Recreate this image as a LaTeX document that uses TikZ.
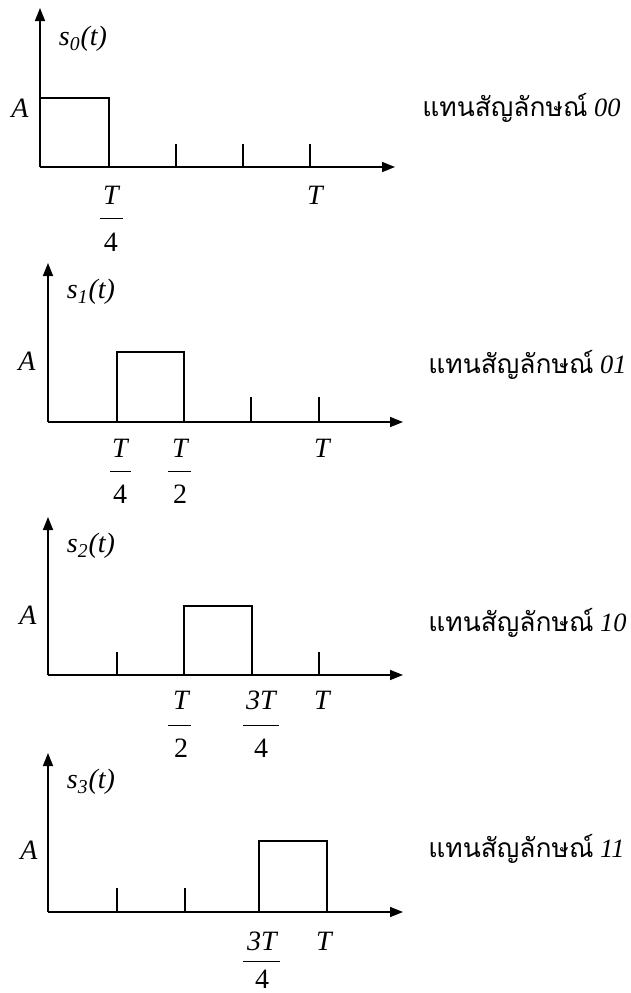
\documentclass[tikz,border=0pt]{standalone}
\usepackage{fontspec}
\setmainfont{Liberation Serif}
\newfontfamily\thaifont[Script=Thai]{Loma}
\usetikzlibrary{arrows.meta}

\begin{document}
\begin{tikzpicture}[
  x=0.5pt, y=-0.5pt,
  font=\fontsize{14}{16}\selectfont,
  axis/.style={line width=0.8pt, -{Triangle[length=6.5pt,width=5pt]}},
  pulse/.style={line width=0.6pt},
  tickmark/.style={line width=0.6pt},
  bar/.style={line width=0.5pt},
  lbl/.style={inner sep=0pt, font=\fontsize{14}{16}\selectfont\itshape},
  num/.style={inner sep=0pt},
  sym/.style={inner sep=0pt, anchor=base west, font=\fontsize{13.2}{15}\selectfont}
]
  \useasboundingbox (0,0) rectangle (631,993);

  % s0(t)
  \coordinate (o0) at (40,167);
  \coordinate (y0) at (40,8);
  \coordinate (x0) at (395,167);
  \draw[axis] (o0) -- (y0);
  \draw[axis] (o0) -- (x0);
  \draw[pulse] (40,98) -- (109,98) -- (109,167);
  \foreach \x in {176,243,310} \draw[tickmark] (\x,167) -- (\x,144);
  \node[lbl] (s0) at (83,39) {s\textsubscript{0}(t)};
  \node[lbl] (a0) at (20,108) {A};
  \node[lbl] (n0a) at (111,195) {T};
  \draw[bar] (100,218) -- (123,218);
  \node[num] (d0a) at (111,242) {4};
  \node[lbl] (n0b) at (315,195) {T};
  \node[sym] (m0) at (422,116) {{\thaifont แทนสัญลักษณ์} \textit{00}};

  % s1(t)
  \coordinate (o1) at (48,422);
  \coordinate (y1) at (48,263);
  \coordinate (x1) at (403,422);
  \draw[axis] (o1) -- (y1);
  \draw[axis] (o1) -- (x1);
  \draw[pulse] (117,422) -- (117,352) -- (184,352) -- (184,422);
  \foreach \x in {251,319} \draw[tickmark] (\x,422) -- (\x,397);
  \node[lbl] (s1) at (91,292) {s\textsubscript{1}(t)};
  \node[lbl] (a1) at (27,361) {A};
  \node[lbl] (n1a) at (120,448) {T};
  \draw[bar] (110,471) -- (131,471);
  \node[num] (d1a) at (120,494) {4};
  \node[lbl] (n1b) at (180,448) {T};
  \draw[bar] (168,471) -- (191,471);
  \node[num] (d1b) at (180,494) {2};
  \node[lbl] (n1c) at (322,448) {T};
  \node[sym] (m1) at (428,373) {{\thaifont แทนสัญลักษณ์} \textit{01}};

  % s2(t)
  \coordinate (o2) at (48,675);
  \coordinate (y2) at (48,517);
  \coordinate (x2) at (403,675);
  \draw[axis] (o2) -- (y2);
  \draw[axis] (o2) -- (x2);
  \draw[pulse] (184,675) -- (184,606) -- (252,606) -- (252,675);
  \foreach \x in {117,319} \draw[tickmark] (\x,675) -- (\x,652);
  \node[lbl] (s2) at (91,546) {s\textsubscript{2}(t)};
  \node[lbl] (a2) at (28,615) {A};
  \node[lbl] (n2a) at (181,700) {T};
  \draw[bar] (168,725) -- (191,725);
  \node[num] (d2a) at (181,748) {2};
  \node[lbl] (n2b) at (261,700) {3T};
  \draw[bar] (243,725) -- (279,725);
  \node[num] (d2b) at (261,748) {4};
  \node[lbl] (n2c) at (322,700) {T};
  \node[sym] (m2) at (428,631) {{\thaifont แทนสัญลักษณ์} \textit{10}};

  % s3(t)
  \coordinate (o3) at (48,912);
  \coordinate (y3) at (48,753);
  \coordinate (x3) at (403,912);
  \draw[axis] (o3) -- (y3);
  \draw[axis] (o3) -- (x3);
  \draw[pulse] (259,912) -- (259,841) -- (327,841) -- (327,912);
  \foreach \x in {117,185} \draw[tickmark] (\x,912) -- (\x,888);
  \node[lbl] (s3) at (91,782) {s\textsubscript{3}(t)};
  \node[lbl] (a3) at (29,850) {A};
  \node[lbl] (n3a) at (262,941) {3T};
  \draw[bar] (243,961) -- (280,961);
  \node[num] (d3a) at (262,979) {4};
  \node[lbl] (n3b) at (324,941) {T};
  \node[sym] (m3) at (428,857) {{\thaifont แทนสัญลักษณ์} \textit{11}};
\end{tikzpicture}
\end{document}
